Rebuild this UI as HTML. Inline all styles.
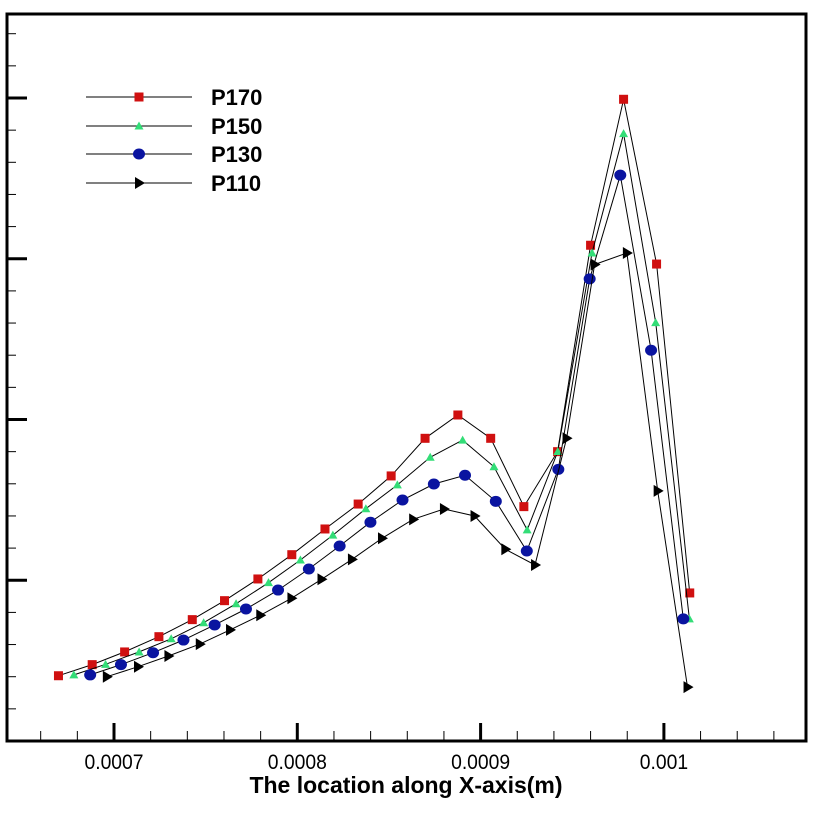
<!DOCTYPE html>
<html><head><meta charset="utf-8"><style>
html,body{margin:0;padding:0;background:#fff;}
svg{display:block;}
text{font-family:"Liberation Sans",Arial,sans-serif;}
</style></head><body>
<svg id="chart" width="840" height="816" viewBox="0 0 840 816" xmlns="http://www.w3.org/2000/svg">
<g id="axes"></g>
<g id="series"></g>
<g id="legend"></g>
<text x="406" y="793" font-size="23" font-weight="bold" text-anchor="middle">The location along X-axis(m)</text>
</svg>
<script>
const xTickValues = [0.0007, 0.0008, 0.0009, 0.001];
const xTickLabels = ["0.0007", "0.0008", "0.0009", "0.001"];
const seriesNames = ["P170", "P150", "P130", "P110"];
const xP170 = [0.0006697,0.0006881,0.0007058,0.0007245,0.0007427,0.0007603,0.0007785,0.0007970,0.0008151,0.0008332,0.0008512,0.0008697,0.0008876,0.0009055,0.0009236,0.0009420,0.0009600,0.0009780,0.0009960,0.0010141];
const yP170 = [0.406,0.475,0.554,0.649,0.755,0.873,1.008,1.159,1.319,1.474,1.649,1.883,2.028,1.883,1.458,1.800,3.084,3.992,2.967,0.921];
const xP150 = [0.0006781,0.0006954,0.0007137,0.0007312,0.0007489,0.0007666,0.0007843,0.0008017,0.0008194,0.0008374,0.0008546,0.0008725,0.0008902,0.0009073,0.0009254,0.0009421,0.0009608,0.0009780,0.0009955,0.0010139];
const yP150 = [0.411,0.477,0.554,0.636,0.736,0.854,0.985,1.126,1.281,1.445,1.593,1.765,1.872,1.706,1.313,1.801,3.036,3.778,2.603,0.760];
const xP130 = [0.0006870,0.0007038,0.0007213,0.0007379,0.0007549,0.0007720,0.0007895,0.0008063,0.0008231,0.0008399,0.0008574,0.0008745,0.0008915,0.0009083,0.0009252,0.0009424,0.0009595,0.0009762,0.0009930,0.0010106];
const yP130 = [0.411,0.475,0.549,0.628,0.722,0.821,0.939,1.070,1.213,1.361,1.499,1.599,1.653,1.491,1.182,1.690,2.875,3.520,2.431,0.760];
const xP110 = [0.0006961,0.0007131,0.0007297,0.0007468,0.0007633,0.0007798,0.0007968,0.0008132,0.0008298,0.0008462,0.0008632,0.0008800,0.0008967,0.0009135,0.0009297,0.0009469,0.0009622,0.0009798,0.0009966,0.0010129];
const yP110 = [0.400,0.462,0.529,0.603,0.691,0.782,0.888,1.006,1.130,1.261,1.379,1.443,1.400,1.193,1.095,1.883,2.964,3.036,1.556,0.335];

const NS = "http://www.w3.org/2000/svg";
const L = 7, R = 806, T = 14, B = 741;
function sx(v){ return 114 + (v - 0.0007) / 0.0001 * 183.3; }
function sy(v){ return B - v * 160.75; }
function mk(tag, attrs, parent){ const e = document.createElementNS(NS, tag); for (const k in attrs) e.setAttribute(k, attrs[k]); parent.appendChild(e); return e; }

const axes = document.getElementById("axes");
const frame = mk("path", {d:`M${L},${B} L${L},${T} L${R},${T} L${R},${B} Z`, fill:"none", stroke:"#000", "stroke-width":3}, axes);


for (let i = 0; i * 32.15 <= B - T - 10; i++) {
  const y = B - i * 32.15;
  const major = i % 5 === 0;
  const t = mk("line", {x1:L, x2:L + (major ? 20 : 9), y1:y, y2:y, stroke:"#000", "stroke-width": major ? 3 : 1}, axes);
  
  
}
for (let k = -5; k <= 20; k++) {
  const v = 0.0007 + k * 0.00002;
  const x = sx(v);
  if (x <= L + 2 || x >= R - 2) continue;
  const major = k % 5 === 0;
  const t = mk("line", {x1:x, x2:x, y1:B, y2:B - (major ? 18 : 10), stroke:"#000", "stroke-width": major ? 3 : 1}, axes);
  
  
}
xTickValues.forEach((v, i) => {
  const t = mk("text", {x:0, y:0, "font-size":21, "text-anchor":"middle", transform:`translate(${sx(v)},769) scale(0.92,1)`}, axes);
  t.textContent = xTickLabels[i];
  
  
});

function marker(type, x, y, parent){
  let e;
  if (type === 0) e = mk("rect", {x:x-4.5, y:y-4.5, width:9, height:9, fill:"#d01010"}, parent);
  else if (type === 1) e = mk("polygon", {points:`${x},${y-4.5} ${x+4.5},${y+3.5} ${x-4.5},${y+3.5}`, fill:"#33dd77"}, parent);
  else if (type === 2) e = mk("ellipse", {cx:x, cy:y, rx:6, ry:5.5, fill:"#0a14a0"}, parent);
  else e = mk("polygon", {points:`${x-4},${y-6} ${x+6},${y} ${x-4},${y+6}`, fill:"#000"}, parent);
  return e;
}

const xs = [xP170, xP150, xP130, xP110];
const ys = [yP170, yP150, yP130, yP110];
const sg = document.getElementById("series");
for (let s = 0; s < 4; s++) {
  const g = mk("g", {}, sg);
  
  
  const pts = xs[s].map((v, i) => `${sx(v).toFixed(1)},${sy(ys[s][i]).toFixed(1)}`).join(" ");
  const pl = mk("polyline", {points:pts, fill:"none", stroke:"#000", "stroke-width":1}, g);
  
  
  xs[s].forEach((v, i) => {
    const m = marker(s, sx(v), sy(ys[s][i]), g);
    
    
  });
}

const lg = document.getElementById("legend");
const legendY = [97, 126, 154, 183];
for (let s = 0; s < 4; s++) {
  const g = mk("g", {}, lg);
  
  
  mk("line", {x1:86, x2:192, y1:legendY[s], y2:legendY[s], stroke:"#000", "stroke-width":1}, g);
  marker(s, 139, legendY[s], g);
  const t = mk("text", {x:211, y:legendY[s] + 8, "font-size":22, "font-weight":"bold"}, g);
  t.textContent = seriesNames[s];
  
  
}
</script>
</body></html>
